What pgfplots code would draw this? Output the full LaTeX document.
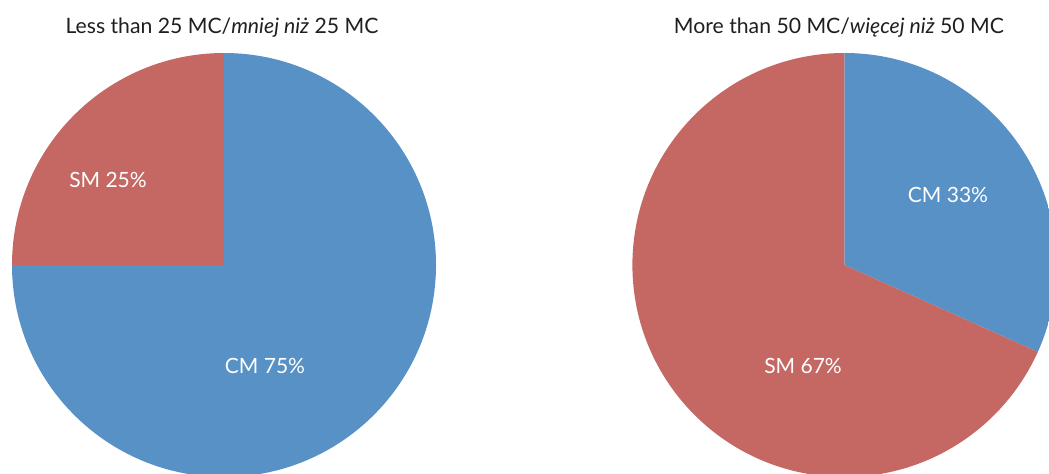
\documentclass[border=0pt]{standalone}
\usepackage{fontspec}
\setmainfont{Lato}
\usepackage{pgfplots}
\pgfplotsset{compat=1.18}
\definecolor{cmblue}{RGB}{87,145,198}
\definecolor{smred}{RGB}{197,104,100}
\begin{document}
\begin{tikzpicture}
\path[use as bounding box] (0,0) rectangle (524.5pt,236.5pt);
\clip (0,0) rectangle (524.5pt,236.5pt);
% Left pie: CM 75%, SM 25%
\begin{axis}[at={(112pt,104pt)}, anchor=center, x=106pt, y=106pt,
  xmin=-1, xmax=1, ymin=-1, ymax=1, hide axis, clip=false]
\clip (axis cs:0,0) circle[radius=1];
% CM 75%: clockwise from 90 deg to 180 deg
\addplot[fill=cmblue, draw=none] coordinates {(0,0) (0,1.5) (1.5,1.5) (1.5,-1.5) (-1.5,-1.5) (-1.5,0)};
% SM 25%
\addplot[fill=smred, draw=none] coordinates {(0,0) (-1.5,0) (-1.5,1.5) (0,1.5)};
\end{axis}
% Right pie: CM 33%, SM 67%
\begin{axis}[at={(422.2pt,104pt)}, anchor=center, x=106pt, y=106pt,
  xmin=-1, xmax=1, ymin=-1, ymax=1, hide axis, clip=false]
\clip (axis cs:0,0) circle[radius=1];
\addplot[fill=cmblue, draw=none] coordinates {(0,0) (0,1.5) (1.5,1.5) (1.5,-0.674)};
\addplot[fill=smred, draw=none] coordinates {(0,0) (1.5,-0.674) (1.5,-1.5) (-1.5,-1.5) (-1.5,1.5) (0,1.5)};
\end{axis}
% titles
\node[anchor=base, inner sep=0pt, text=black!88] at (111pt,220pt) {\fontsize{10.6pt}{12pt}\selectfont Less than 25 MC/\textit{mniej niż} 25 MC};
\node[anchor=base, inner sep=0pt, text=black!88] at (419.5pt,220pt) {\fontsize{10.6pt}{12pt}\selectfont More than 50 MC/\textit{więcej niż} 50 MC};
% slice labels
\node[anchor=base, inner sep=0pt, text=white] at (54pt,143pt) {\fontsize{10.5pt}{12pt}\selectfont SM 25\%};
\node[anchor=base, inner sep=0pt, text=white] at (132.5pt,50pt) {\fontsize{10.5pt}{12pt}\selectfont CM 75\%};
\node[anchor=base, inner sep=0pt, text=white] at (474pt,135.5pt) {\fontsize{10.5pt}{12pt}\selectfont CM 33\%};
\node[anchor=base, inner sep=0pt, text=white] at (401.5pt,50pt) {\fontsize{10.5pt}{12pt}\selectfont SM 67\%};
\end{tikzpicture}
\end{document}
